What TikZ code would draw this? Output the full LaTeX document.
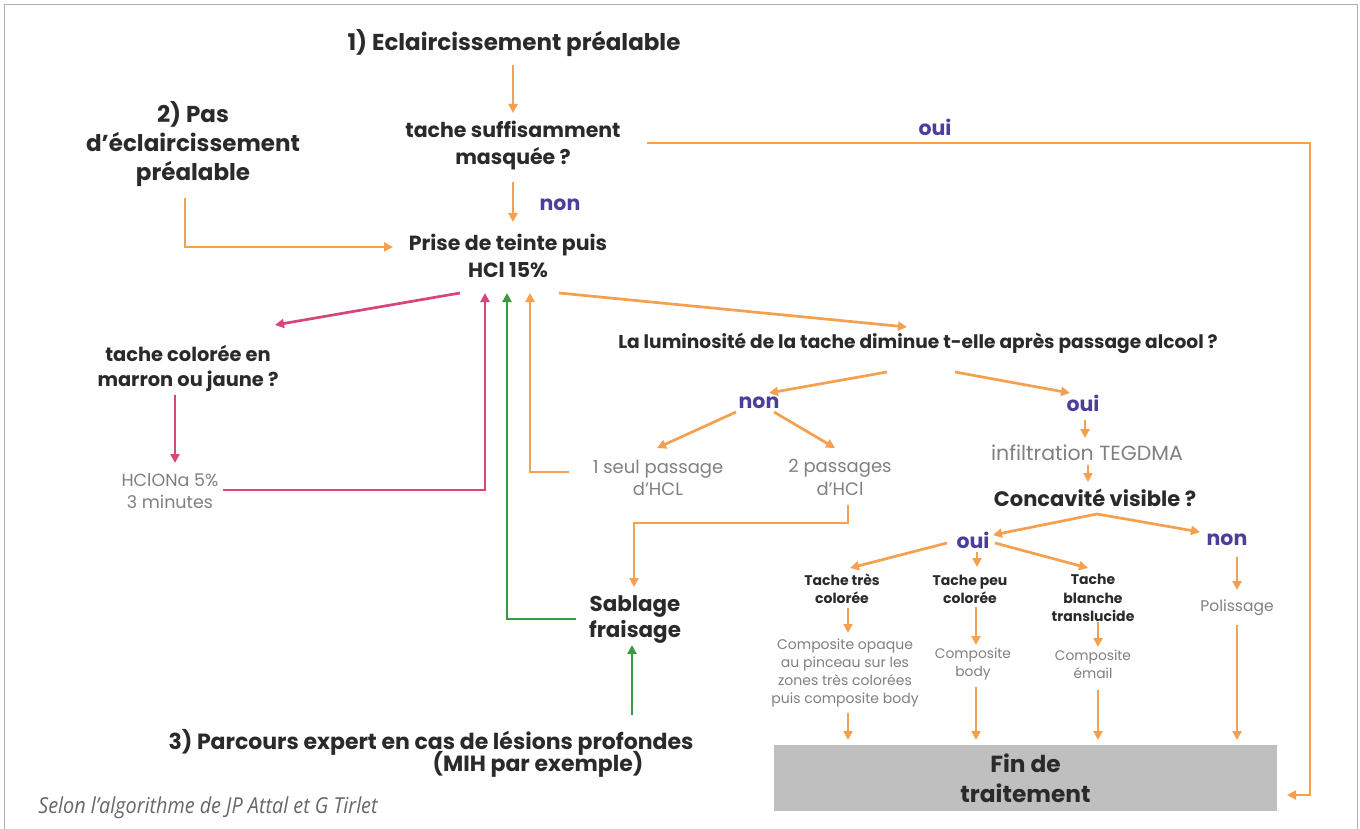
\documentclass[tikz,border=0pt]{standalone}
\usepackage{fontspec}
\setmainfont{Poppins}
\newfontfamily\capfont[FakeStretch=0.9]{Open Sans}
\usetikzlibrary{arrows.meta}
\definecolor{orng}{HTML}{F4A04F}
\definecolor{pnk}{HTML}{D6457C}
\definecolor{grn}{HTML}{3E9842}
\definecolor{lab}{HTML}{4B3F9C}
\definecolor{txtdark}{HTML}{2A2A2A}
\definecolor{txtgray}{HTML}{808080}
\definecolor{boxgray}{HTML}{BFBFBF}
\definecolor{framegray}{HTML}{B0B0B0}
\newcommand\myfb[2]{\fontsize{#1}{#2}\selectfont\bfseries}
\newcommand\myfr[2]{\fontsize{#1}{#2}\selectfont}
\begin{document}
\begin{tikzpicture}[x=1pt,y=-1pt,
  txt/.style={inner sep=0pt, align=center, text=txtdark},
  gtxt/.style={inner sep=0pt, align=center, text=txtgray},
  lbl/.style={inner sep=0pt, text=lab, font=\myfb{20.5}{22}},
  con/.style={line width=2.7pt, -{Triangle[length=9pt,width=9pt]}},
  oarr/.style={con, draw=orng},
  parr/.style={con, draw=pnk},
  garr/.style={con, draw=grn}]
\useasboundingbox (0,0) rectangle (1360,829);
\fill[white] (0,0) rectangle (1360,829);
\draw[framegray, line width=1pt] (4,829) -- (4,5) -- (1357,5) -- (1357,829);

% nodes
\node[txt, font=\myfb{23}{29}] (t1) at (514,43) {1) Eclaircissement préalable};
\node[txt, font=\myfb{20.5}{27}] (q1) at (513,146) {tache suffisamment\\masquée ?};
\node[txt, font=\myfb{23}{29}] (t2) at (193,144) {2) Pas\\d’éclaircissement\\préalable};
\node[txt, font=\myfb{20.5}{27}] (prise) at (508,256) {Prise de teinte puis\\HCl 15\%};
\node[lbl] (non1) at (560,205) {non};
\node[lbl] (oui1) at (935,127) {oui};
\node[txt, font=\myfb{19.4}{25}] (tc) at (188,368) {tache colorée en\\marron ou jaune ?};
\node[gtxt, font=\myfr{17.5}{22}] (hcl) at (170,491) {HClONa 5\%\\3 minutes};
\node[txt, font=\myfb{18.6}{20}] (lumi) at (918,343) {La luminosité de la tache diminue t-elle après passage alcool ?};
\node[lbl] (non2) at (759,403) {non};
\node[lbl] (oui2) at (1083,403) {oui};
\node[gtxt, font=\myfr{18}{22}] (seul) at (658,478) {1 seul passage\\d’HCL};
\node[gtxt, font=\myfr{18}{23}] (deux) at (840,477) {2 passages\\d’HCl};
\node[gtxt, font=\myfr{20.5}{20}] (infil) at (1087,453) {infiltration TEGDMA};
\node[txt, font=\myfb{21}{22}] (conc) at (1095,498) {Concavité visible ?};
\node[lbl] (oui3) at (973,540) {oui};
\node[lbl] (non3) at (1227,540) {non};
\node[txt, font=\myfb{21.4}{26}] (sab) at (635,620) {Sablage\\fraisage};
\node[txt, font=\myfb{22}{22}] (p3a) at (431,742) {3) Parcours expert en cas de lésions profondes};
\node[txt, font=\myfb{22}{22}] (p3b) at (538,764) {(MIH par exemple)};
\node[txt, font=\myfb{14}{18}] (tt) at (842,589) {Tache très\\colorée};
\node[txt, font=\myfb{14}{18}] (tp) at (970,589) {Tache peu\\colorée};
\node[txt, font=\myfb{14}{18.5}] (tb) at (1093,598) {Tache\\blanche\\translucide};
\node[gtxt, font=\myfr{15.5}{18}] (pol) at (1237,608) {Polissage};
\node[gtxt, font=\myfr{14}{17.7}] (co) at (845,673) {Composite opaque\\au pinceau sur les\\zones très colorées\\puis composite body};
\node[gtxt, font=\myfr{13.8}{18}] (cb) at (973,664) {Composite\\body};
\node[gtxt, font=\myfr{13.8}{18}] (ce) at (1093,664) {Composite\\émail};
\node[fill=boxgray, minimum width=503pt, minimum height=66pt, inner sep=0pt, align=center, text=txtdark, font=\myfb{23.3}{30}] (fin) at (1025.5,778) {Fin de\\traitement};
\node[inner sep=0pt, text=txtgray!80!black, font=\capfont\itshape\fontsize{22}{24}\selectfont] (cap) at (208,808) {Selon l’algorithme de JP Attal et G Tirlet};

\coordinate (r1) at (1310,143);
\coordinate (r2) at (1310,795);

% orange connectors
\draw[oarr] ([xshift=-1pt,yshift=-22pt]t1.center) -- ([yshift=33pt]q1.center);
\draw[oarr] ([xshift=134pt,yshift=3pt]q1.center) -- (r1) -- (r2) -- ([xshift=261.5pt,yshift=-17pt]fin.center);
\draw[oarr] ([yshift=-36pt]q1.center) -- ([xshift=5pt,yshift=34pt]prise.center);
\draw[oarr] ([xshift=-8pt,yshift=-54pt]t2.center) |- ([xshift=-115pt,yshift=9pt]prise.center);
\draw[oarr] ([xshift=51pt,yshift=-37pt]prise.center) -- ([xshift=-11pt,yshift=16pt]lumi.center);
\draw[oarr] ([xshift=-89pt,yshift=6pt]seul.center) -| ([xshift=22pt,yshift=-37pt]prise.center);
\draw[oarr] ([xshift=-31pt,yshift=-29pt]lumi.center) -- ([xshift=10pt,yshift=10pt]non2.center);
\draw[oarr] ([xshift=37pt,yshift=-29pt]lumi.center) -- ([xshift=-13pt,yshift=10pt]oui2.center);
\draw[oarr] ([xshift=-23pt,yshift=-9pt]non2.center) -- ([xshift=-1pt,yshift=30pt]seul.center);
\draw[oarr] ([xshift=15pt,yshift=-9pt]non2.center) -- ([xshift=-5pt,yshift=29pt]deux.center);
\draw[oarr] ([xshift=8pt,yshift=-28pt]deux.center) -- ++(0,18) -| ([xshift=-1pt,yshift=33pt]sab.center);
\draw[oarr] ([xshift=2pt,yshift=-17pt]oui2.center) -- ([xshift=-2pt,yshift=15pt]infil.center);
\draw[oarr] ([xshift=1pt,yshift=-12pt]infil.center) -- ([xshift=-7pt,yshift=16pt]conc.center);
\draw[oarr] ([xshift=2pt,yshift=-16pt]conc.center) -- ([xshift=20pt,yshift=5pt]oui3.center);
\draw[oarr] ([xshift=2pt,yshift=-16pt]conc.center) -- ([xshift=-27pt,yshift=8pt]non3.center);
\draw[oarr] ([xshift=-26pt,yshift=-3pt]oui3.center) -- ([xshift=8pt,yshift=21pt]tt.center);
\draw[oarr] ([xshift=4pt,yshift=-12pt]oui3.center) -- ([xshift=7pt,yshift=22pt]tp.center);
\draw[oarr] ([xshift=22pt,yshift=-3pt]oui3.center) -- ([xshift=-5pt,yshift=30pt]tb.center);
\draw[oarr] ([xshift=10pt,yshift=-17pt]non3.center) -- ([yshift=18pt]pol.center);
\draw[oarr] ([xshift=6pt,yshift=-19pt]tt.center) -- ([xshift=3pt,yshift=40pt]co.center);
\draw[oarr] ([xshift=6pt,yshift=-18pt]tp.center) -- ([xshift=3pt,yshift=19pt]cb.center);
\draw[oarr] ([xshift=5pt,yshift=-24pt]tb.center) -- ([xshift=5pt,yshift=17pt]ce.center);
\draw[oarr] ([xshift=3pt,yshift=-40pt]co.center) -- ([xshift=-177.5pt,yshift=38pt]fin.center);
\draw[oarr] ([xshift=3pt,yshift=-23pt]cb.center) -- ([xshift=-49.5pt,yshift=38pt]fin.center);
\draw[oarr] ([xshift=5pt,yshift=-26pt]ce.center) -- ([xshift=72.5pt,yshift=38pt]fin.center);
\draw[oarr] ([yshift=-17pt]pol.center) -- ([xshift=211.5pt,yshift=38pt]fin.center);

% pink connectors
\draw[parr] ([xshift=-48pt,yshift=-37pt]prise.center) -- ([xshift=87pt,yshift=43pt]tc.center);
\draw[parr] ([xshift=-13pt,yshift=-27pt]tc.center) -- ([xshift=5pt,yshift=28pt]hcl.center);
\draw[parr] ([xshift=53pt,yshift=1pt]hcl.center) -| ([xshift=-23pt,yshift=-37pt]prise.center);

% green connectors
\draw[garr] ([xshift=-59pt,yshift=1pt]sab.center) -| ([xshift=-1pt,yshift=-37pt]prise.center);
\draw[garr] ([xshift=201pt,yshift=27pt]p3a.center) -- ([xshift=-3pt,yshift=-25pt]sab.center);
\end{tikzpicture}
\end{document}
